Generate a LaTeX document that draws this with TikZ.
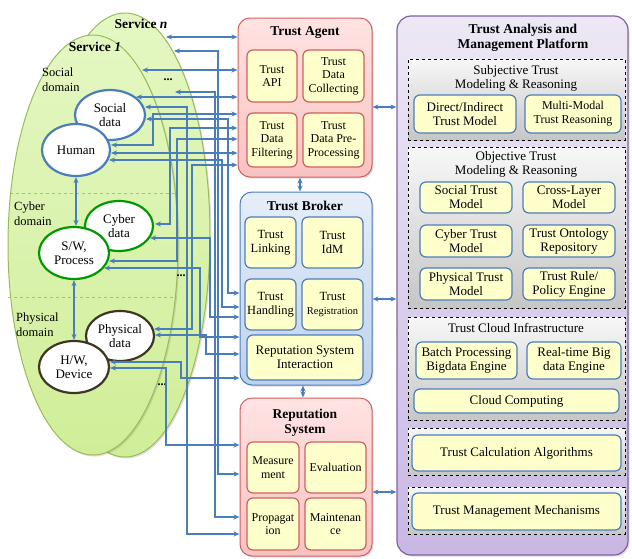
\documentclass[tikz,border=0pt]{standalone}
\usepackage{fontspec}
\setmainfont{Liberation Serif}
\usetikzlibrary{arrows.meta,shapes.geometric,calc,shadows}
\definecolor{conblue}{HTML}{4A7EBB}
\definecolor{svcline}{HTML}{9BBB59}
\definecolor{redline}{HTML}{D0605E}
\definecolor{yel}{HTML}{FFFFCC}
\definecolor{purline}{HTML}{8064A2}
\definecolor{grnline}{HTML}{009A00}
\definecolor{brnline}{HTML}{3F3525}
\definecolor{dashorange}{HTML}{F0A070}
\definecolor{svcT}{HTML}{E4F7C2}
\definecolor{svcB}{HTML}{D0EE98}
\definecolor{redT}{HTML}{FFE3E3}
\definecolor{redB}{HTML}{F8C2C2}
\definecolor{bluT}{HTML}{E6EEF9}
\definecolor{bluB}{HTML}{BED1EC}
\definecolor{purT}{HTML}{EDE8F5}
\definecolor{purB}{HTML}{C9B7E4}
\begin{document}
\begin{tikzpicture}[x=1pt,y=-1pt,
 every node/.style={inner sep=0pt, align=center, font=\fontsize{12}{13.5}\selectfont},
 title/.style={font=\fontsize{13.5}{15}\selectfont\bfseries},
 ptitle/.style={font=\fontsize{13}{14}\selectfont},
 conn/.style={draw=conblue, line width=1.2pt, {Stealth[length=6pt,width=5pt]}-{Stealth[length=6pt,width=5pt]}},
 shad/.style={drop shadow={opacity=0.25,shadow xshift=1.5pt,shadow yshift=-1.5pt}},
 svc/.style={ellipse, draw=svcline, line width=1pt, top color=svcT, bottom color=svcB, shad},
 ell/.style={ellipse, fill=white, line width=2.2pt, font=\fontsize{13}{14}\selectfont},
 redbox/.style={rectangle, rounded corners=12pt, draw=redline, line width=1pt, top color=redT, bottom color=redB, shad},
 bluebox/.style={rectangle, rounded corners=12pt, draw=conblue, line width=1pt, top color=bluT, bottom color=bluB, shad},
 purbox/.style={rectangle, rounded corners=14pt, draw=purline, line width=1.2pt, top color=purT, bottom color=purB, shad},
 dbox/.style={rectangle, draw=black, dashed, line width=1pt, top color=gray!6, bottom color=gray!45},
 rin/.style={rectangle, rounded corners=6pt, draw=redline, line width=1.2pt, fill=yel},
 bin/.style={rectangle, rounded corners=6pt, draw=conblue, line width=1.2pt, fill=yel, font=\fontsize{12.5}{14}\selectfont},
 pin/.style={rectangle, rounded corners=6pt, draw=conblue, line width=1.2pt, fill=yel, font=\fontsize{13}{14}\selectfont},
 dom/.style={anchor=west, align=left, font=\fontsize{12.5}{15}\selectfont},
 dotlbl/.style={font=\fontsize{12}{13}\selectfont\bfseries}
]
\useasboundingbox (0,0) rectangle (632,558);

% ---- services ----
\node[svc, minimum width=170pt, minimum height=444pt] (svcn) at (125,235) {};
\node[svc, minimum width=170pt, minimum height=420pt] (svc1) at (93,245) {};
\node[title] (tsn) at (141,24) {Service \textit{n}};
\node[title] (ts1) at (95,47) {Service \textit{1}};
\draw[dashed, dashorange, line width=1pt] (10,193) -- (177,193);
\draw[dashed, dashorange, line width=1pt] (8,297) -- (177,297);
\node[dom] (dsoc) at (42,80) {Social\\domain};
\node[dom] (dcyb) at (14,214) {Cyber\\domain};
\node[dom] (dphy) at (16,325) {Physical\\domain};
\node[dotlbl] (dot1) at (168,80) {...};
\node[dotlbl] (dot2) at (181,276) {...};
\node[dotlbl] (dot3) at (162,385) {...};

\node[ell, draw=conblue, minimum width=70pt, minimum height=50pt] (sd) at (110,115) {Social\\data};
\node[ell, draw=conblue, minimum width=68pt, minimum height=52pt] (hum) at (76,150) {Human};
\node[ell, draw=grnline, minimum width=68pt, minimum height=50pt] (cd) at (119,226) {Cyber\\data};
\node[ell, draw=grnline, minimum width=70pt, minimum height=52pt] (sw) at (74,253) {S/W,\\Process};
\node[ell, draw=brnline, minimum width=68pt, minimum height=50pt] (pd) at (120,336) {Physical\\data};
\node[ell, draw=brnline, minimum width=70pt, minimum height=52pt] (hw) at (74,367) {H/W,\\Device};

\draw[conn] (hum.south) -- (hum.south |- sw.north);
\draw[conn] (sw.south) -- (sw.south |- hw.north);

% ---- Trust Agent ----
\node[redbox, minimum width=134pt, minimum height=159pt] (agent) at (305,97.5) {};
\node[title] (tagent) at (305,33) {Trust Agent};
\node[rin, minimum width=50pt, minimum height=52pt] (api) at (272,76) {Trust\\API};
\node[rin, minimum width=61pt, minimum height=52pt] (coll) at (333.5,76) {Trust\\Data\\Collecting};
\node[rin, minimum width=50pt, minimum height=54pt] (filt) at (272,140) {Trust\\Data\\Filtering};
\node[rin, minimum width=61pt, minimum height=54pt] (prep) at (333.5,140) {Trust\\Data Pre-\\Processing};

% ---- Trust Broker ----
\node[bluebox, minimum width=132pt, minimum height=193pt] (broker) at (306,288.5) {};
\node[title] (tbroker) at (305,206) {Trust Broker};
\node[bin, minimum width=51pt, minimum height=51pt] (link) at (270.5,242.5) {Trust\\Linking};
\node[bin, minimum width=61pt, minimum height=51pt] (idm) at (332.5,242.5) {Trust\\IdM};
\node[bin, minimum width=51pt, minimum height=51pt] (hand) at (270.5,304.5) {Trust\\Handling};
\node[bin, minimum width=61pt, minimum height=51pt] (reg) at (332.5,304.5) {Trust\\{\fontsize{10.5}{12}\selectfont Registration}};
\node[bin, minimum width=116pt, minimum height=45pt, font=\fontsize{13}{14.5}\selectfont] (rsi) at (305,357.5) {Reputation System\\Interaction};

% ---- Reputation System ----
\node[redbox, minimum width=132pt, minimum height=158pt] (rep) at (306,477) {};
\node[title] (trep) at (305,423) {Reputation\\System};
\node[rin, minimum width=52pt, minimum height=51pt] (meas) at (273,467.5) {Measure\\ment};
\node[rin, minimum width=61pt, minimum height=51pt] (eval) at (335.5,467.5) {Evaluation};
\node[rin, minimum width=52pt, minimum height=52pt] (prop) at (273,524) {Propagat\\ion};
\node[rin, minimum width=61pt, minimum height=52pt] (main) at (335.5,524) {Maintenan\\ce};

% ---- Platform ----
\node[purbox, minimum width=231pt, minimum height=539pt] (plat) at (512.5,285.5) {};
\node[title] (tplat) at (523,38) {Trust Analysis and\\Management Platform};

\node[dbox, minimum width=217pt, minimum height=81pt] (subj) at (516.5,99.5) {};
\node[ptitle] (tsubj) at (516,78) {Subjective Trust\\Modeling \& Reasoning};
\node[pin, minimum width=102pt, minimum height=38pt] (dir) at (465,114) {Direct/Indirect\\Trust Model};
\node[pin, minimum width=96pt, minimum height=38pt, font=\fontsize{12}{14}\selectfont] (mm) at (573,114) {Multi-Modal\\Trust Reasoning};

\node[dbox, minimum width=217pt, minimum height=161pt] (obj) at (516.5,227.5) {};
\node[ptitle] (tobj) at (516,164) {Objective Trust\\Modeling \& Reasoning};
\node[pin, minimum width=92pt, minimum height=31pt] (stm) at (466,197.5) {Social Trust\\Model};
\node[pin, minimum width=92pt, minimum height=31pt] (clm) at (569,197.5) {Cross-Layer\\Model};
\node[pin, minimum width=92pt, minimum height=32pt] (ctm) at (466,241) {Cyber Trust\\Model};
\node[pin, minimum width=92pt, minimum height=32pt] (tor) at (569,241) {Trust Ontology\\Repository};
\node[pin, minimum width=92pt, minimum height=32pt] (ptm) at (466,284) {Physical Trust\\Model};
\node[pin, minimum width=92pt, minimum height=32pt] (trp) at (569,284) {Trust Rule/\\Policy Engine};

\node[dbox, minimum width=217pt, minimum height=103pt] (cloud) at (516.5,368.5) {};
\node[ptitle] (tcloud) at (516,328) {Trust Cloud Infrastructure};
\node[pin, minimum width=101pt, minimum height=37pt] (batch) at (466.5,360.5) {Batch Processing\\Bigdata Engine};
\node[pin, minimum width=94pt, minimum height=37pt] (rt) at (574,360.5) {Real-time Big\\data Engine};
\node[pin, minimum width=205pt, minimum height=24pt] (cc) at (516.5,401) {Cloud Computing};

\node[dbox, minimum width=217pt, minimum height=47pt] (calcb) at (516.5,451.5) {};
\node[pin, minimum width=209pt, minimum height=36pt] (calc) at (516.5,453) {Trust Calculation Algorithms};
\node[dbox, minimum width=217pt, minimum height=47pt] (mgmtb) at (516.5,510.5) {};
\node[pin, minimum width=209pt, minimum height=37pt] (mgmt) at (516.5,511.5) {Trust Management Mechanisms};

% ---- connectors between boxes ----
\draw[conn] (agent.east |- 0,107) -- (plat.west |- 0,107);
\draw[conn] (broker.east |- 0,299) -- (plat.west |- 0,299);
\draw[conn] (rep.east |- 0,492) -- (plat.west |- 0,492);
\draw[conn] (agent.south -| 300,0) -- (broker.north -| 300,0);
\draw[conn] (broker.south -| 303,0) -- (rep.north -| 303,0);

% ---- connectors from services ----
\coordinate (snA) at (166,37);
\coordinate (snB) at (174,51);
\coordinate (s1A) at (142,70);
\coordinate (dotA) at (175,92);
\draw[conn] (snA) -- (agent.west |- snA);
\draw[conn] (s1A) -- (agent.west |- s1A);
\draw[conn] ($(sd)+(26,-18)$) -- (agent.west |- 0,97);
\draw[conn] ($(hum)+(35,-5)$) -| (153,114) -- (agent.west |- 0,114);
\draw[conn] ($(cd)+(36,-2)$) -| (170,128) -- (agent.west |- 0,128);
\draw[conn] ($(sw)+(35,8)$) -| (177,139) -- (agent.west |- 0,139);
\draw[conn] ($(hum)+(35,3)$) -- (agent.west |- 0,153);
\draw[conn] ($(pd)+(34,-7)$) -| (192,165) -- (agent.west |- 0,165);

\draw[conn] ($(sd)+(36,4)$) -| (228,293) -- (broker.west |- 0,293);
\draw[conn] ($(hum)+(33,10)$) -| (222,307) -- (broker.west |- 0,307);
\draw[conn] ($(cd)+(31,12)$) -| (210,317) -- (broker.west |- 0,317);
\draw[conn] ($(sw)+(30,15)$) -| (200,337) -- (broker.west |- 0,337);
\draw[conn] ($(pd)+(35,-1)$) -| (206,354) -- (broker.west |- 0,354);
\draw[conn] ($(hw)+(36,-5)$) -| (181,378) -- (broker.west |- 0,378);

\draw[conn] ($(hw)+(36,1)$) -| (166,445) -- (rep.west |- 0,445);
\draw[conn] (snB) -| (218,474) -- (rep.west |- 0,474);
\draw[conn] (dotA) -| (215,517) -- (rep.west |- 0,517);
\draw[conn] ($(sd)+(35,-8)$) -| (187,534) -- (rep.west |- 0,534);
\end{tikzpicture}
\end{document}
